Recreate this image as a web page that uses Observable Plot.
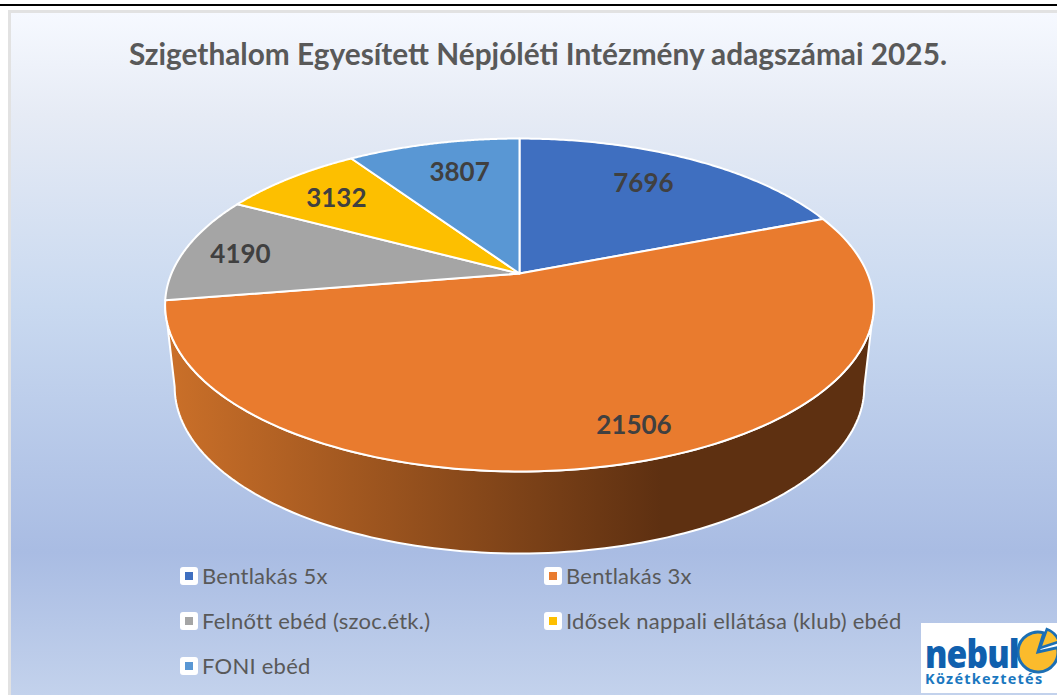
<!DOCTYPE html>
<html lang="hu">
<head>
<meta charset="utf-8">
<title>Szigethalom adagszámai 2025</title>
<script src="https://cdn.jsdelivr.net/npm/d3@7"></script>
<script src="https://cdn.jsdelivr.net/npm/@observablehq/plot@0.6"></script>
<style>
  html, body { margin: 0; padding: 0; background: #fff; overflow: hidden; }
  #stage { position: relative; width: 1057px; height: 695px; overflow: hidden; font-family: Lato, sans-serif; }
  #rule { position: absolute; left: 0; top: 4px; width: 1057px; height: 2px; background: #000; }
  #panel { position: absolute; left: 8px; top: 10px; width: 1049px; height: 685px; box-sizing: border-box;
           border-left: 3px solid #e2e2e2; border-top: 3px solid #e2e2e2;
           background: linear-gradient(180deg, #f6f9ff 0%, #e6ebf5 15%, #c9d9f0 43%, #a9bce3 79%, #c3d2ec 100%); }
  #chart { position: absolute; left: 0; top: 0; }
  #chart svg { background: transparent; display: block; }
  #title { position: absolute; left: 8px; top: 36px; width: 1060px; text-align: center; font-size: 29.8px; font-weight: 700; color: #595959; white-space: nowrap; line-height: 36px; }
  .lg { position: absolute; white-space: nowrap; font-size: 22px; letter-spacing: .25px; color: #595959; line-height: 22px; height: 22px; }
  .lg i { position: absolute; left: -22px; top: 2px; width: 18px; height: 18px; background: #fff; border-radius: 3px; }
  .lg i b { position: absolute; left: 5px; top: 5px; width: 8px; height: 8px; display: block; }
  #logo { position: absolute; left: 921px; top: 623px; width: 136px; height: 70px; background: #fff; overflow: hidden; }
  #logo .n { position: absolute; left: 4px; top: 12px; font: 900 39px/36px "Noto Sans", Lato, sans-serif; color: #1060ae; letter-spacing: -1px; transform-origin: 0 50%; transform: scaleX(.86); }
  #logo .k { position: absolute; left: 4px; top: 48px; font: 700 14.5px/16px "Open Sans", sans-serif; color: #1b78c0; letter-spacing: 1.25px; white-space: nowrap; }
  #logo svg { position: absolute; left: 0; top: 0; }
</style>
</head>
<body>
<div id="stage">
  <div id="rule"></div>
  <div id="panel"></div>
  <div id="chart"></div>
  <div id="title">Szigethalom Egyesített Népjóléti Intézmény adagszámai 2025.</div>
  <div id="legend"></div>
  <div id="logo">
    <svg id="logoPie" width="136" height="70"></svg>
    <div class="n">nebul</div>
    <div class="k">Közétkeztetés</div>
  </div>
</div>
<script>
// --- chart values ---
const categories = ["Bentlakás 5x", "Bentlakás 3x", "Felnőtt ebéd (szoc.étk.)", "Idősek nappali ellátása (klub) ebéd", "FONI ebéd"];
const servings   = [7696, 21506, 4190, 3132, 3807];
const colours    = ["#3f6fc0", "#e97b2e", "#a5a5a5", "#fdbf00", "#5997d4"];

// --- where each label sits inside its own slice (share of radius, share of sweep) ---
const labelRadius = [0.743, 0.85, 0.829, 0.772, 0.741];
const labelSweep  = [0.472, 0.48, 0.474, 0.484, 0.55];

// --- perspective of the tilted disc ---
const tilt = 0.1892;          // foreshortening towards the back edge
const depth = 0.511;          // wall height, in disc units
const baseShrink = 0.973;     // lower rim is slightly narrower
const project = (angle, r = 1) => {
  const u = r * Math.sin(angle), v = r * Math.cos(angle), w = 1 + tilt * v;
  return {px: u / w, py: v / w};
};

const arcs = d3.pie().sort(null).value(d => d)(servings);
const sample = (a0, a1) => d3.range(0, 121).map(i => a0 + (a1 - a0) * i / 120);

const slicePoints = arcs.flatMap((a, i) => {
  const rim = sample(a.startAngle, a.endAngle).map(t => project(t));
  const c = project(0, 0);
  return [c, ...rim, c].map(p => ({...p, name: categories[i]}));
});

// front wall of the disc between its two widest points
const frontFrom = Math.PI - Math.acos(0.189), frontTo = Math.PI + Math.acos(0.189);
const topRim = sample(frontFrom, frontTo).map(t => project(t));
const lowRim = topRim.map(p => ({px: p.px * baseShrink, py: p.py - depth})).reverse();
const wall = [...topRim, ...lowRim, topRim[0]];

const labels = arcs.map((a, i) => ({
  ...project(a.startAngle + (a.endAngle - a.startAngle) * labelSweep[i], labelRadius[i]),
  value: String(servings[i])
}));

const wallGradient = () => {
  const defs = d3.create("svg:defs");
  const g = defs.append("linearGradient").attr("id", "wallShade").attr("x1", "0").attr("x2", "1").attr("y1", "0").attr("y2", "0");
  g.append("stop").attr("offset", "0").attr("stop-color", "#cb7029");
  g.append("stop").attr("offset", "0.7").attr("stop-color", "#5e3011");
  g.append("stop").attr("offset", "1").attr("stop-color", "#5e3011");
  return defs.node();
};

const plot = Plot.plot({
  width: 1057,
  height: 695,
  margin: 0,
  style: {background: "transparent", overflow: "visible"},
  x: {domain: [-519 / 348, 538 / 348], range: [0, 1057], axis: null},
  y: {domain: [-422 / 160.5, 273 / 160.5], range: [695, 0], axis: null},
  color: {domain: categories, range: colours},
  marks: [
    wallGradient,
    Plot.line(wall, {x: "px", y: "py", fill: "url(#wallShade)", stroke: "#fff", strokeWidth: 2}),
    Plot.line(slicePoints, {x: "px", y: "py", fill: "name", stroke: "#fff", strokeWidth: 2}),
    Plot.text(labels, {x: "px", y: "py", text: "value", fontFamily: "Lato, sans-serif", fontWeight: 700, fontSize: 26, fill: "#404040"})
  ]
});
document.getElementById("chart").append(plot);

// legend
const legend = d3.select("#legend");
categories.forEach((c, i) => {
  const row = Math.floor(i / 2), col = i % 2;
  const el = legend.append("div").attr("class", "lg")
    .style("left", (col ? 566 : 202) + "px")
    .style("top", (565 + row * 45) + "px");
  el.append("i").append("b").style("background", colours[i]);
  el.append("span").text(c);
});

// publisher's mark
const logo = d3.select("#logoPie");
const lp = d3.arc().innerRadius(0).outerRadius(20);
logo.append("path").attr("transform", "translate(117,29)")
  .attr("d", lp({startAngle: 1.35, endAngle: 2 * Math.PI + 0.3}))
  .attr("fill", "#fbbb2c").attr("stroke", "#1c6fb4").attr("stroke-width", 3);
logo.append("path").attr("transform", "translate(119,25)")
  .attr("d", lp({startAngle: 0.35, endAngle: 1.25}))
  .attr("fill", "#fbc02d").attr("stroke", "#1c6fb4").attr("stroke-width", 2.5);
</script>
</body>
</html>
